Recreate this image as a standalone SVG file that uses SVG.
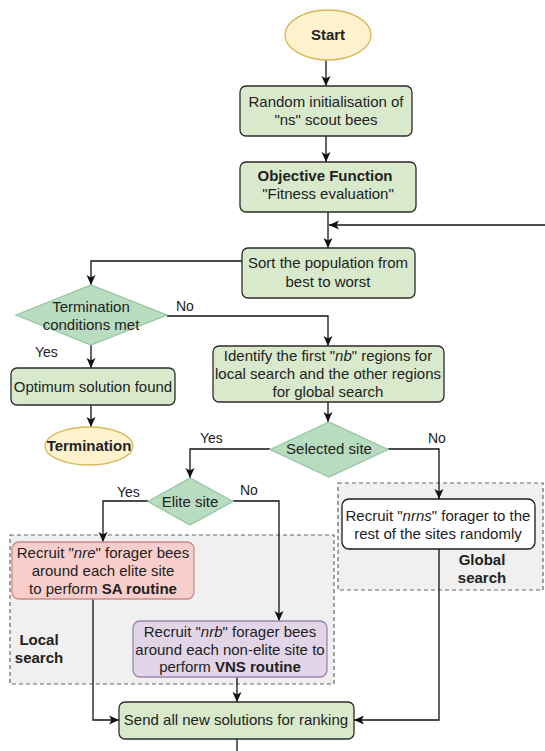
<svg xmlns="http://www.w3.org/2000/svg" width="545" height="751" viewBox="0 0 545 751">
<style>
text{font-family:"Liberation Sans",Arial,sans-serif;font-size:15px;fill:#222;text-anchor:middle}
.b{font-weight:bold}
.lbl{font-size:14px;text-anchor:start}
.green{fill:#d8eacb;stroke:#2b2b2b;stroke-width:1.3}
.dia{fill:#b8dcc0;stroke:#95c6a0;stroke-width:1.3}
.term{fill:#fff2cc;stroke:#d6b656;stroke-width:1.3}
.red{fill:#f8cecc;stroke:#c98a88;stroke-width:1.3}
.purple{fill:#e1d5e7;stroke:#9f85ad;stroke-width:1.3}
.white{fill:#ffffff;stroke:#1a1a1a;stroke-width:1.3}
.group{fill:#f0f0f0;stroke:#666;stroke-width:1.2;stroke-dasharray:4 3}
.c{fill:none;stroke:#111;stroke-width:1.3}
.a{marker-end:url(#arr)}
</style>
<defs>
<marker id="arr" markerUnits="userSpaceOnUse" markerWidth="12" markerHeight="12" viewBox="0 0 12 12" refX="11" refY="6" orient="auto">
<path d="M1,1.5 L11,6 L1,10.5 L3.5,6 z" fill="#111"/>
</marker>
</defs>

<g id="local-search-group">
<rect class="group" x="10" y="535" width="324" height="149"/>
<text class="b" x="39" y="645">Local</text>
<text class="b" x="39" y="663">search</text>
</g>
<g id="global-search-group">
<rect class="group" x="338" y="483" width="205" height="107"/>
<text class="b" x="482" y="565">Global</text>
<text class="b" x="482" y="583">search</text>
</g>

<g id="connectors">
<path class="c a" d="M326,60 L326,86"/>
<path class="c a" d="M326,136 L326,162"/>
<path class="c a" d="M328,212 L328,248"/>
<path class="c a" d="M545,225 L329,225"/>
<path class="c a" d="M242,261 L91,261 L91,285"/>
<path class="c a" d="M167,316 L328,316 L328,346"/>
<path class="c a" d="M91,345 L91,368"/>
<path class="c a" d="M91,405 L91,427"/>
<path class="c a" d="M328,402 L328,422"/>
<path class="c a" d="M270,449 L190,449 L190,478"/>
<path class="c a" d="M388,449 L439,449 L439,499"/>
<path class="c a" d="M148,501 L103,501 L103,542"/>
<path class="c a" d="M233,501 L279,501 L279,621"/>
<path class="c a" d="M237,677 L237,702"/>
<path class="c a" d="M93,599 L93,720 L119,720"/>
<path class="c a" d="M439,549 L439,720 L354,720"/>
<path class="c" d="M237,739 L237,751"/>
<text class="lbl" x="176" y="311">No</text>
<text class="lbl" x="35" y="357">Yes</text>
<text class="lbl" x="200" y="443">Yes</text>
<text class="lbl" x="428" y="443">No</text>
<text class="lbl" x="117" y="497">Yes</text>
<text class="lbl" x="240" y="495">No</text>
</g>

<g id="start">
<ellipse class="term" cx="328" cy="35" rx="43" ry="25"/>
<text class="b" x="328" y="40">Start</text>
</g>
<g id="init">
<rect class="green" x="240" y="86" width="172" height="50" rx="6"/>
<text x="326" y="107">Random initialisation of</text>
<text x="326" y="125">"ns" scout bees</text>
</g>
<g id="objective">
<rect class="green" x="240" y="162" width="176" height="50" rx="6"/>
<text class="b" x="325" y="181">Objective Function</text>
<text x="328" y="199">"Fitness evaluation"</text>
</g>
<g id="sort">
<rect class="green" x="242" y="248" width="173" height="50" rx="6"/>
<text x="328" y="268">Sort the population from</text>
<text x="328" y="287">best to worst</text>
</g>
<g id="termination-check">
<polygon class="dia" points="16,315 91,285 167,315 91,345"/>
<text x="91" y="312">Termination</text>
<text x="91" y="330">conditions met</text>
</g>
<g id="optimum">
<rect class="green" x="11" y="368" width="164" height="37" rx="6"/>
<text x="93" y="392">Optimum solution found</text>
</g>
<g id="termination">
<ellipse class="term" cx="89" cy="446" rx="44" ry="19"/>
<text class="b" x="89" y="451">Termination</text>
</g>
<g id="identify">
<rect class="green" x="213" y="346" width="231" height="56" rx="6"/>
<text x="328" y="361">Identify the first "<tspan font-style="italic">nb</tspan>" regions for</text>
<text x="328" y="379">local search and the other regions</text>
<text x="328" y="397">for global search</text>
</g>
<g id="selected-site">
<polygon class="dia" points="270,449.5 329,422 388,449.5 329,477"/>
<text x="329" y="454">Selected site</text>
</g>
<g id="elite-site">
<polygon class="dia" points="148,501.5 190,478 233,501.5 190,525"/>
<text x="190" y="507">Elite site</text>
</g>
<g id="recruit-nrns">
<rect class="white" x="342" y="499" width="193" height="50" rx="7"/>
<text x="438" y="521">Recruit "<tspan font-style="italic">nrns</tspan>" forager to the</text>
<text x="438" y="539">rest of the sites randomly</text>
</g>
<g id="recruit-nre">
<rect class="red" x="12" y="542" width="182" height="57" rx="7"/>
<text x="103" y="558">Recruit "<tspan font-style="italic">nre</tspan>" forager bees</text>
<text x="103" y="576">around each elite site</text>
<text x="103" y="594">to perform <tspan class="b">SA routine</tspan></text>
</g>
<g id="recruit-nrb">
<rect class="purple" x="133" y="621" width="194" height="56" rx="7"/>
<text x="230" y="637">Recruit "<tspan font-style="italic">nrb</tspan>" forager bees</text>
<text x="230" y="655">around each non-elite site to</text>
<text x="230" y="672">perform <tspan class="b">VNS routine</tspan></text>
</g>
<g id="ranking">
<rect class="green" x="119" y="702" width="235" height="37" rx="6"/>
<text x="236" y="725">Send all new solutions for ranking</text>
</g>
</svg>
